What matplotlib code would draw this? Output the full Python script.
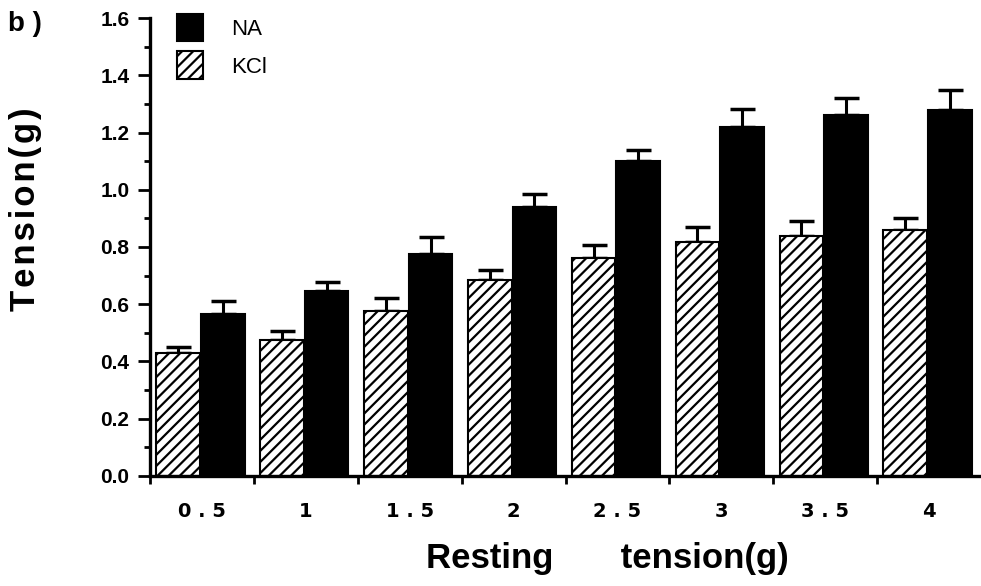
import numpy as np
import matplotlib
matplotlib.use("Agg")
import matplotlib.pyplot as plt

# data
resting = ['0 . 5', '1', '1 . 5', '2', '2 . 5', '3', '3 . 5', '4']
kcl = [0.43, 0.474, 0.575, 0.685, 0.763, 0.819, 0.84, 0.86]
kcl_err = [0.022, 0.034, 0.045, 0.035, 0.044, 0.051, 0.05, 0.043]
na = [0.567, 0.645, 0.776, 0.94, 1.10, 1.219, 1.26, 1.278]
na_err = [0.043, 0.031, 0.059, 0.044, 0.038, 0.064, 0.06, 0.072]

plt.rcParams['hatch.linewidth'] = 1.6
plt.rcParams['font.family'] = ['Liberation Sans', 'DejaVu Sans']

fig = plt.figure(figsize=(9.81, 5.86), dpi=100)
ax = fig.add_axes([0.153, 0.188, 0.847, 0.781])

x = np.arange(len(resting))
w = 0.42
ax.bar(x + 0.27, kcl, w, color='white', edgecolor='black', hatch='///',
       linewidth=1.5, label='KCl', zorder=2)
ax.bar(x + 0.70, na, w, color='black', edgecolor='black',
       linewidth=1.5, label='NA', zorder=2)
ax.errorbar(x + 0.27, kcl, yerr=[np.zeros(len(kcl)), kcl_err], fmt='none',
            ecolor='black', elinewidth=2.2, capsize=9, capthick=2.5, zorder=1)
ax.errorbar(x + 0.70, na, yerr=[np.zeros(len(na)), na_err], fmt='none',
            ecolor='black', elinewidth=2.2, capsize=9, capthick=2.5, zorder=1)

ax.set_xlim(0, len(resting))
ax.set_ylim(0, 1.6)
for s in ['top', 'right']:
    ax.spines[s].set_visible(False)
for s in ['left', 'bottom']:
    ax.spines[s].set_linewidth(2.4)

ax.set_yticks(np.arange(0, 1.61, 0.2))
ax.set_yticks(np.arange(0.1, 1.6, 0.2), minor=True)
ax.set_yticklabels([f'{v:.1f}' for v in np.arange(0, 1.61, 0.2)],
                   fontsize=15, fontweight='bold')
ax.tick_params(axis='y', which='major', length=9, width=2, pad=6)
ax.tick_params(axis='y', which='minor', length=4.5, width=2)

ax.set_xticks(x)
ax.set_xticklabels([])
ax.set_xticks(x + 0.5, minor=True)
ax.set_xticklabels(resting, minor=True, fontsize=14, fontweight='bold',
                   family='DejaVu Sans')
ax.tick_params(axis='x', which='major', length=6, width=2)
ax.tick_params(axis='x', which='minor', length=0, pad=19)

# axis titles placed to match the original layout
fig.text(607 / 981, 1 - 568 / 586, 'Resting       tension(g)', fontsize=25,
         fontweight='bold', ha='center', va='baseline')
fig.text(26 / 981, 1 - 209 / 586, 'T\u200ae\u200an\u200as\u200ai\u200ao\u200an\u200a(\u200ag\u200a)',
         fontsize=25, fontweight='bold', rotation=90, ha='center', va='center')
fig.text(8 / 981, 1 - 24 / 586, 'b )', fontsize=20, fontweight='bold',
         va='center')

h, l = ax.get_legend_handles_labels()
ax.legend(h[::-1], l[::-1], loc='upper left', bbox_to_anchor=(0.032, 1.01),
          frameon=False, fontsize=16, borderpad=0, borderaxespad=0,
          handlelength=1.2, handleheight=1.55, handletextpad=1.25,
          labelspacing=0.45)

fig.savefig('out.png', dpi=100)
